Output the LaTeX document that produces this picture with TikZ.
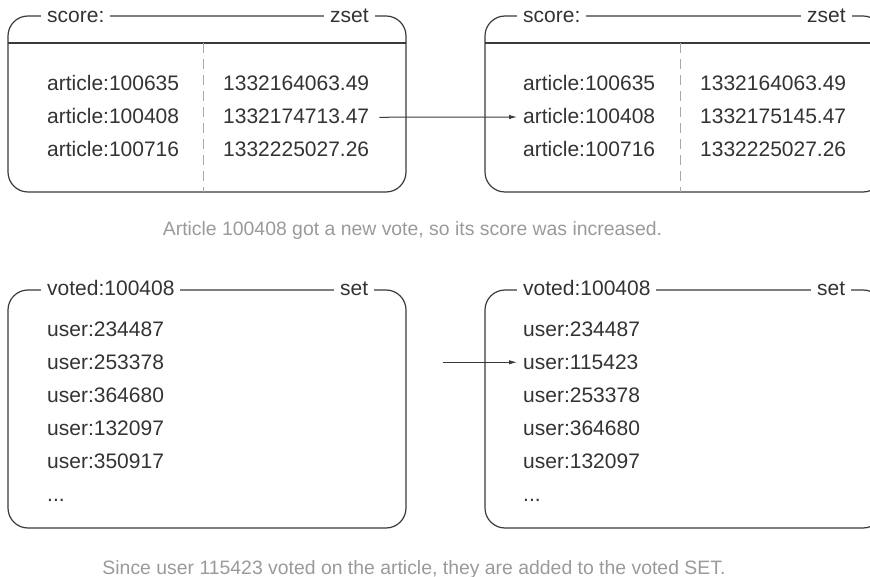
\documentclass[tikz,border=0pt]{standalone}
\usepackage{fontspec}
\setmainfont{Liberation Sans}
\usetikzlibrary{arrows.meta}
\definecolor{txt}{HTML}{333333}
\definecolor{ln}{HTML}{3A3A3A}
\definecolor{dsh}{HTML}{A8A8A8}
\definecolor{capc}{HTML}{9A9A9A}
\begin{document}
\begin{tikzpicture}[x=1pt,y=-1pt,
  box/.style={draw=ln, line width=1.2pt, rounded corners=20pt, minimum width=398pt,
    anchor=north west, inner sep=0pt, outer sep=0pt},
  hline/.style={draw=ln, line width=1.2pt},
  hdr/.style={fill=white, inner xsep=6pt, inner ysep=1pt, anchor=base west,
    font=\fontsize{21}{25}\selectfont, text=txt},
  item/.style={inner sep=0pt, anchor=base west, font=\fontsize{21}{25}\selectfont, text=txt},
  sep/.style={draw=dsh, line width=1pt, dash pattern=on 10pt off 6pt},
  arr/.style={draw=ln, line width=1pt, -{Latex[length=8pt,width=4.5pt]}},
  caption/.style={text=capc, font=\fontsize{19.4}{23}\selectfont, anchor=base}]
\useasboundingbox (0,0) rectangle (870,577);
\clip (0,0) rectangle (870,577);

% ---------- top boxes (zset) ----------
\node[box, minimum height=176pt] (zl) at (8,16) {};
\node[box, minimum height=176pt] (zr) at (485,16) {};
\draw[hline] ([yshift=-27pt]zl.north west) -- ([yshift=-27pt]zl.north east);
\draw[hline] ([yshift=-27pt]zr.north west) -- ([yshift=-27pt]zr.north east);
\draw[sep] ([shift={(195pt,-27pt)}]zl.north west) -- ([xshift=195pt]zl.south west);
\draw[sep] ([shift={(195pt,-27pt)}]zr.north west) -- ([xshift=195pt]zr.south west);

\node[hdr] (zlh) at (41,22.5) {score:};
\node[hdr] (zlt) at (324,22.5) {zset};
\node[hdr] (zrh) at (517,22.5) {score:};
\node[hdr] (zrt) at (801,22.5) {zset};

\node[item] (la1) at (47,91) {article:100635};
\node[item] (la2) at (47,124) {article:100408};
\node[item] (la3) at (47,157) {article:100716};
\node[item] (lv1) at (223,91) {1332164063.49};
\node[item] (lv2) at (223,124) {1332174713.47};
\node[item] (lv3) at (223,157) {1332225027.26};

\node[item] (ra1) at (523,91) {article:100635};
\node[item] (ra2) at (523,124) {article:100408};
\node[item] (ra3) at (523,157) {article:100716};
\node[item] (rv1) at (700,91) {1332164063.49};
\node[item] (rv2) at (700,124) {1332175145.47};
\node[item] (rv3) at (700,157) {1332225027.26};

\draw[arr] ([shift={(10pt,-0.5pt)}]lv2.east) -- ([shift={(-6pt,-0.5pt)}]ra2.west);

\node[caption] (c1) at (412.5,236) {Article 100408 got a new vote, so its score was increased.};

% ---------- bottom boxes (set) ----------
\node[box, minimum height=238pt] (sl) at (8,290) {};
\node[box, minimum height=238pt] (sr) at (485,290) {};

\node[hdr] (slh) at (41,296) {voted:100408};
\node[hdr] (slt) at (334,296) {set};
\node[hdr] (srh) at (517,296) {voted:100408};
\node[hdr] (srt) at (811,296) {set};

\node[item] (lu1) at (47,336) {user:234487};
\node[item] (lu2) at (47,369) {user:253378};
\node[item] (lu3) at (47,402) {user:364680};
\node[item] (lu4) at (47,435) {user:132097};
\node[item] (lu5) at (47,468) {user:350917};
\node[item] (lu6) at (47,501) {...};

\node[item] (ru1) at (523,336) {user:234487};
\node[item] (ru2) at (523,369) {user:115423};
\node[item] (ru3) at (523,402) {user:253378};
\node[item] (ru4) at (523,435) {user:364680};
\node[item] (ru5) at (523,468) {user:132097};
\node[item] (ru6) at (523,501) {...};

\draw[arr] ([shift={(-80pt,-0.5pt)}]ru2.west) -- ([shift={(-6pt,-0.5pt)}]ru2.west);

\node[caption] (c2) at (414,574) {Since user 115423 voted on the article, they are added to the voted SET.};
\end{tikzpicture}
\end{document}
